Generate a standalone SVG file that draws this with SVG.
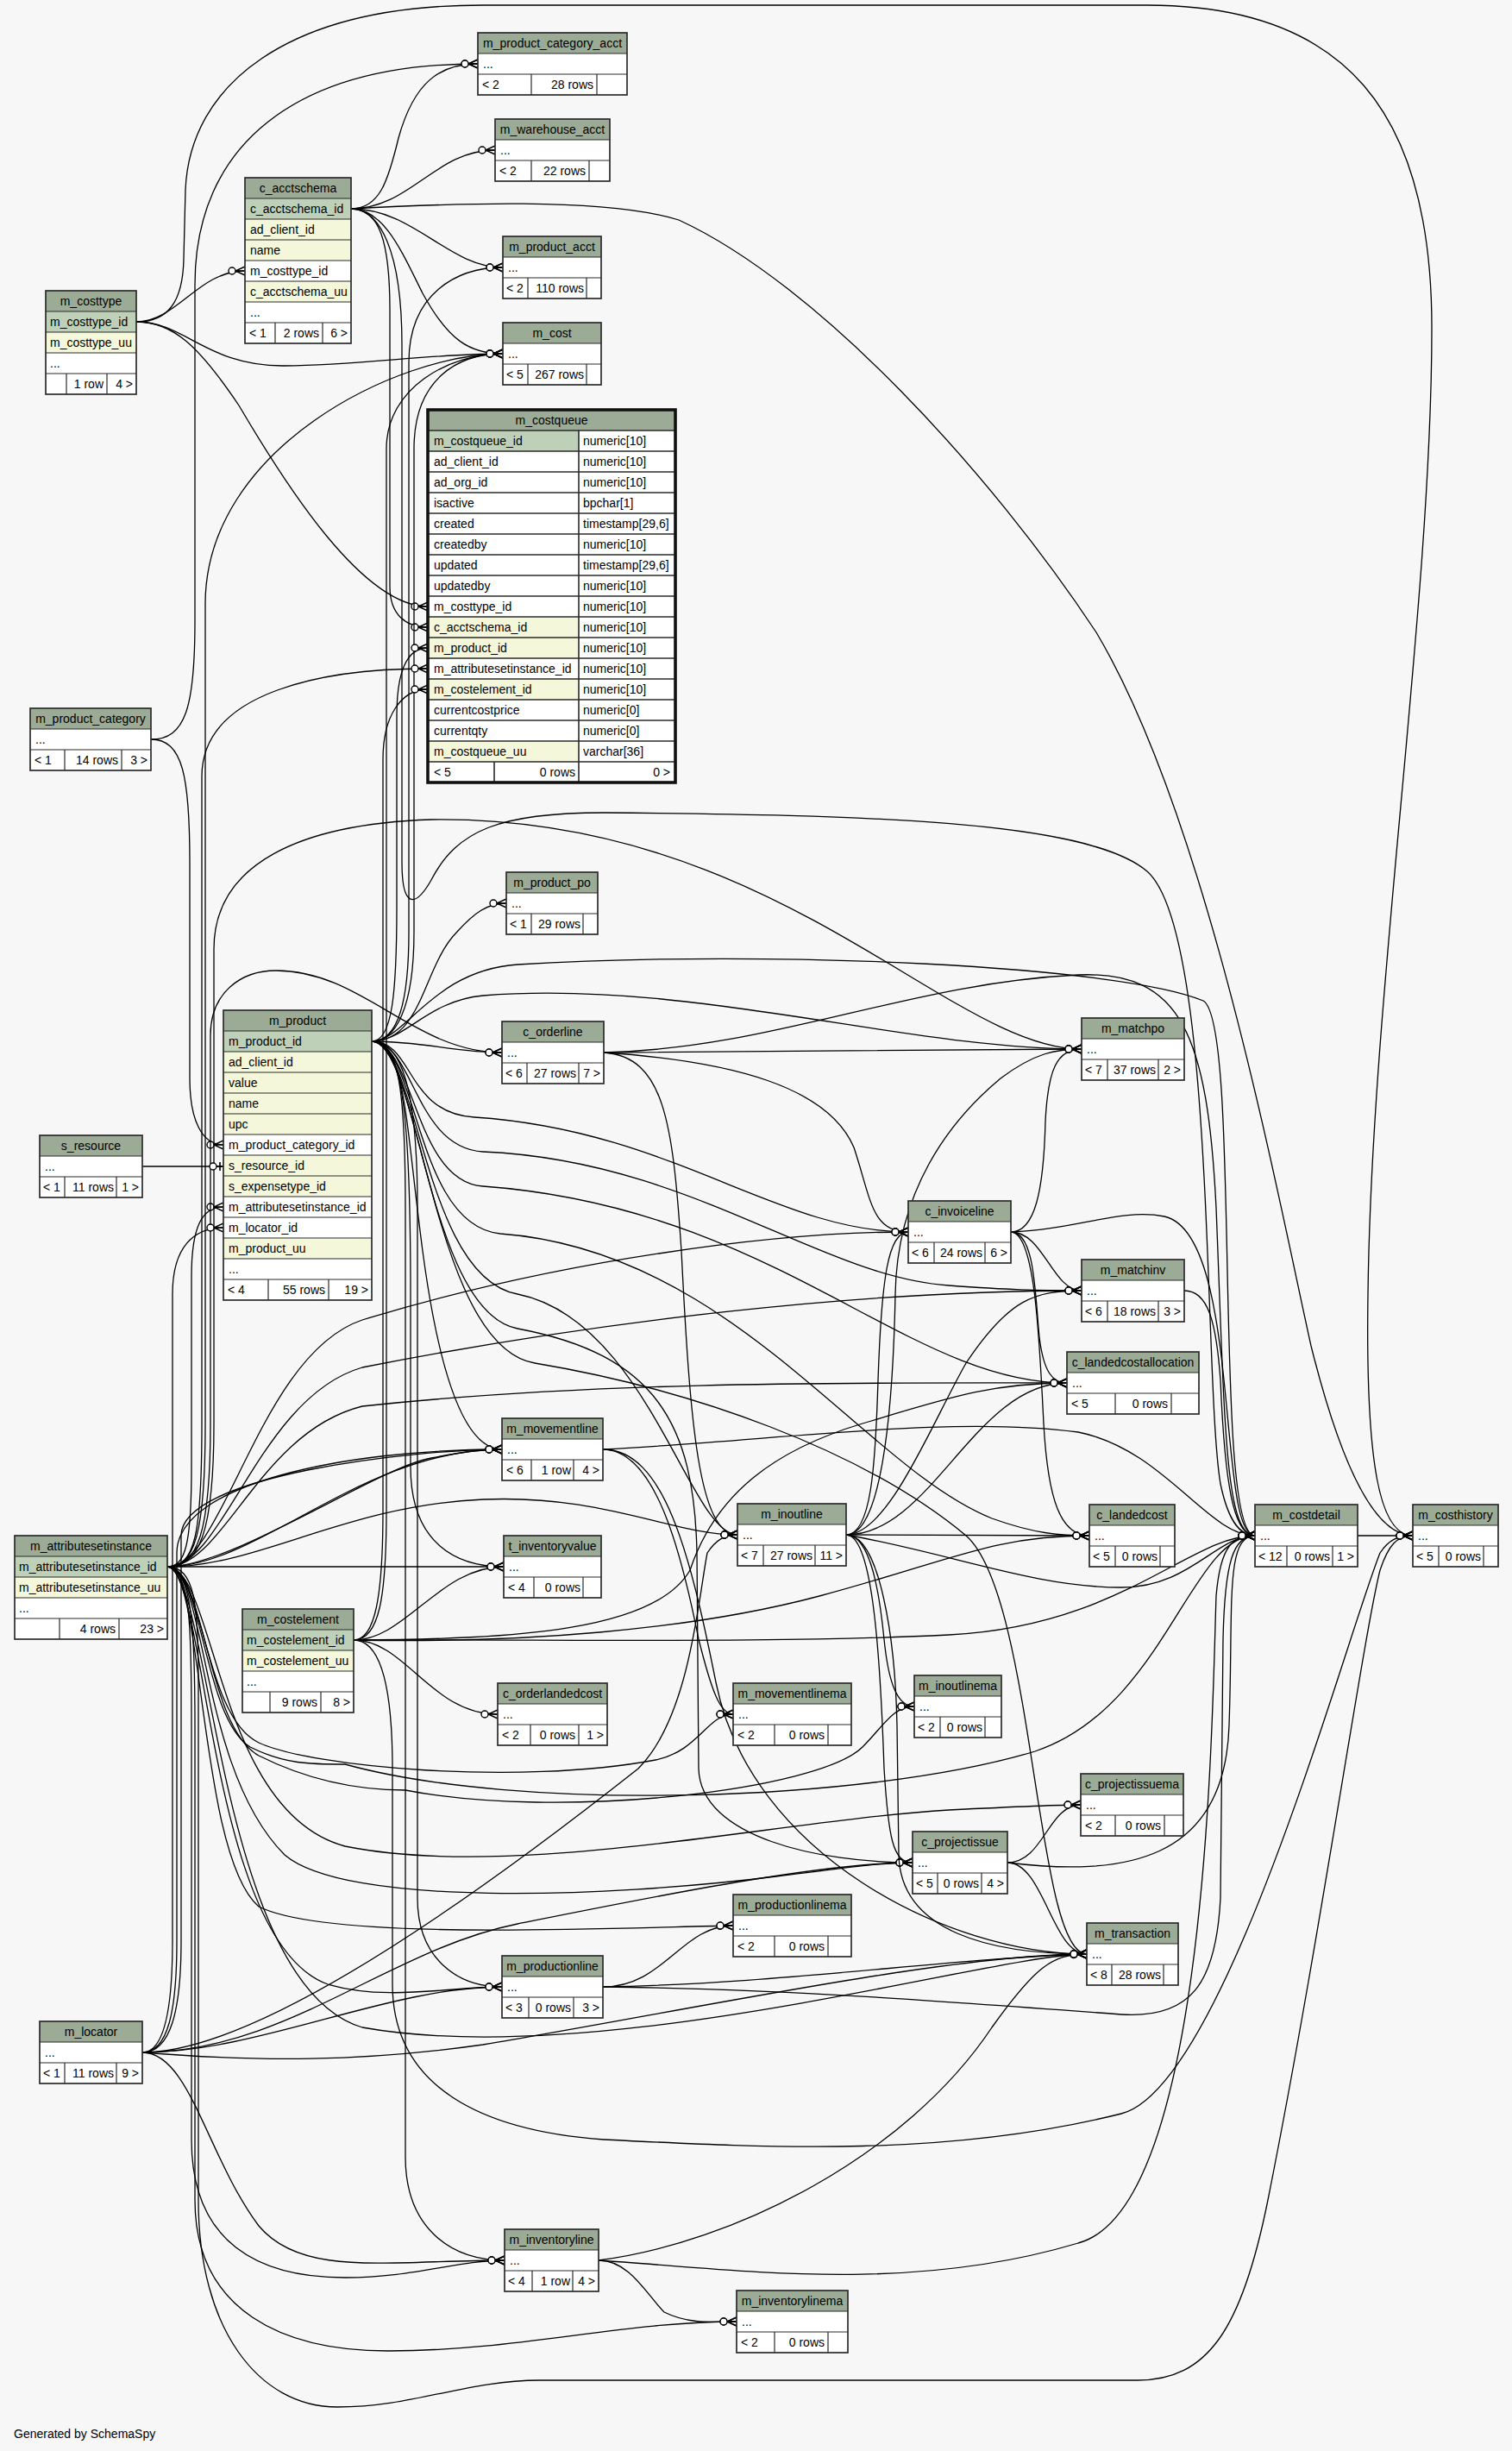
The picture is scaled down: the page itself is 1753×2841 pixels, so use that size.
<svg xmlns="http://www.w3.org/2000/svg" width="1753" height="2841" viewBox="0 0 1753 2841">
<style>
.bg{fill:#f7f7f7}
.hd{fill:#9bab96}
.pk{fill:#bed1b8}
.ix{fill:#f4f7da}
.wt{fill:#ffffff}
.ln{fill:none;stroke:#2b2b2b;stroke-width:1.2}
.bd{fill:none;stroke:#2b2b2b;stroke-width:1.7}
.bd3{fill:none;stroke:#111111;stroke-width:3.6}
text{font-family:"Liberation Sans",Arial,Helvetica,sans-serif;font-size:14px;fill:#000000}
.c{text-anchor:middle}
.r{text-anchor:end}
#edges path{fill:none;stroke:#000000;stroke-width:1.3;marker-end:url(#crow)}
#edges path.one{marker-end:url(#teeodot)}
</style>
<defs>
<marker id="crow" viewBox="0 0 24 14" refX="22" refY="7" markerWidth="24" markerHeight="14" markerUnits="userSpaceOnUse" orient="auto">
<path d="M22,2 L11,7 L22,12 M11,7 H22" fill="none" stroke="#000" stroke-width="1.4"/>
<circle cx="7" cy="7" r="4" fill="#fff" stroke="#000" stroke-width="1.4"/>
</marker>
<marker id="teeodot" viewBox="0 0 24 14" refX="22" refY="7" markerWidth="24" markerHeight="14" markerUnits="userSpaceOnUse" orient="auto">
<path d="M18,2 V12 M14,7 H22" fill="none" stroke="#000" stroke-width="1.6"/>
<circle cx="10" cy="7" r="4" fill="#fff" stroke="#000" stroke-width="1.4"/>
</marker>
</defs>
<rect class="bg" x="0" y="0" width="1753" height="2841"/>

<g id="edges">
<path d="M158,373 C205,373 230,314 284,314"/>
<path d="M158,373 C215,373 240,425 330,424 C420,423 500,410 583,410"/>
<path d="M158,373 C200,373 230,400 277,470 C330,560 420,703 496,703"/>
<path d="M158,373 C195,373 212,350 213,300 L215,220 C220,100 330,6 560,6 L1330,6 C1560,6 1660,130 1660,380 C1660,700 1590,1150 1586,1500 C1583,1700 1600,1780 1638,1780"/>
<path d="M175,857 C215,857 226,820 226,720 L226,330 C226,170 340,74 554,74"/>
<path d="M175,857 C212,857 220,900 220,1000 L220,1250 C220,1300 235,1327 259,1327"/>
<path d="M407,242 C440,242 450,210 462,160 C480,95 510,74 554,74"/>
<path d="M407,242 C475,242 505,174 574,174"/>
<path d="M407,242 C480,242 520,310 583,310"/>
<path d="M407,242 C445,242 465,290 490,340 C520,395 545,410 583,410"/>
<path d="M407,242 C440,242 452,280 452,360 L452,680 C452,712 470,727 496,727"/>
<path d="M407,242 C520,236 700,228 787,255 C950,330 1150,550 1271,733 C1400,950 1480,1380 1520,1560 C1560,1720 1600,1780 1638,1780"/>
<path d="M407,242 C440,242 466,290 466,400 L466,1000 C466,1050 480,1055 500,1020 C530,962 580,942 700,942 C1000,945 1260,950 1330,1010 C1410,1080 1395,1600 1415,1720 C1425,1768 1440,1780 1455,1780"/>
<path d="M431,1207 C462,1207 474,1160 474,1080 L474,420 C474,340 530,310 583,310"/>
<path d="M431,1207 C458,1207 480,1170 480,1080 L480,520 C480,440 530,410 583,410"/>
<path d="M431,1207 C455,1207 460,1150 460,1050 L460,830 C460,770 475,751 496,751"/>
<path d="M431,1207 C490,1207 490,1120 530,1080 C550,1058 565,1047 587,1047"/>
<path d="M431,1207 C490,1207 530,1220 582,1220"/>
<path d="M431,1207 C470,1207 495,1160 560,1154 C800,1135 1050,1216 1254,1216"/>
<path d="M431,1207 C470,1207 500,1125 600,1118 C900,1100 1300,1120 1395,1160 C1440,1185 1405,1780 1455,1780"/>
<path d="M431,1207 C480,1207 470,1290 550,1295 C780,1310 900,1428 1053,1428"/>
<path d="M431,1207 C480,1207 480,1330 560,1335 C800,1345 950,1480 1100,1490 C1170,1495 1200,1496 1254,1496"/>
<path d="M431,1207 C480,1207 480,1370 560,1375 C900,1400 1050,1603 1237,1603"/>
<path d="M431,1207 C485,1207 480,1420 580,1430 C850,1450 1000,1700 1150,1760 C1200,1778 1230,1780 1263,1780"/>
<path d="M431,1207 C470,1207 470,1300 490,1450 C510,1600 540,1680 582,1680"/>
<path d="M431,1207 C468,1207 476,1300 476,1500 L476,1700 C476,1790 530,1816 584,1816"/>
<path d="M431,1207 C485,1207 490,1480 600,1500 C750,1530 800,1779 855,1779"/>
<path d="M431,1207 C485,1207 495,1520 600,1540 C760,1570 805,1650 808,1800 L810,2050 C812,2130 950,2159 1058,2159"/>
<path d="M431,1207 C465,1207 484,1260 484,1400 L484,2200 C484,2270 530,2303 582,2303"/>
<path d="M431,1207 C488,1207 500,1560 620,1580 C800,1610 1000,1680 1120,1780 C1200,1850 1200,2265 1260,2265"/>
<path d="M431,1207 C462,1207 470,1260 470,1400 L470,2500 C470,2580 520,2620 585,2620"/>
<path d="M194,1816 C215,1816 222,1790 222,1700 L222,1480 C222,1420 235,1399 259,1399"/>
<path d="M194,1816 C225,1816 238,1780 238,1650 L238,700 C238,520 460,410 583,410"/>
<path d="M194,1816 C226,1816 234,1780 234,1650 L234,900 C234,800 380,775 496,775"/>
<path d="M194,1816 C228,1816 244,1780 244,1650 L244,1200 C244,1150 280,1125 320,1125 C420,1125 480,1220 582,1220"/>
<path d="M194,1816 C230,1816 248,1780 248,1650 L248,1100 C248,1000 350,955 500,950 C900,945 1100,1216 1254,1216"/>
<path d="M194,1816 C260,1816 300,1570 420,1530 C650,1460 900,1428 1053,1428"/>
<path d="M194,1816 C260,1816 300,1620 420,1585 C700,1530 1000,1496 1254,1496"/>
<path d="M194,1816 C260,1816 300,1660 420,1630 C700,1600 1000,1603 1237,1603"/>
<path d="M194,1816 C300,1816 420,1680 582,1680"/>
<path d="M194,1816 C270,1816 440,1700 500,1690 C530,1684 555,1680 582,1680"/>
<path d="M194,1816 L584,1816"/>
<path d="M194,1816 C300,1816 400,1745 560,1738 C700,1732 780,1779 855,1779"/>
<path d="M194,1816 C240,1816 230,2050 330,2150 C400,2210 700,2200 900,2175 C980,2165 1020,2159 1058,2159"/>
<path d="M194,1816 C235,1816 235,1990 290,2025 C330,2045 360,2045 400,2045 C600,2100 1000,2090 1200,2030 C1350,1980 1380,1780 1455,1780"/>
<path d="M194,1816 C226,1816 230,1860 230,1950 L230,2550 C230,2700 300,2790 391,2790 C480,2790 540,2759 626,2759 L1319,2759 C1400,2759 1440,2700 1470,2550 C1530,2250 1580,1900 1600,1820 C1610,1790 1620,1780 1638,1780"/>
<path d="M194,1816 C236,1816 236,1990 300,2020 C360,2048 600,2070 760,2040 C810,2030 820,1987 850,1987"/>
<path d="M194,1816 C238,1816 238,2000 300,2035 C360,2065 420,2075 470,2075 C650,2110 950,2075 1000,2025 C1025,2000 1035,1978 1060,1978"/>
<path d="M194,1816 C250,1816 250,2100 400,2140 C600,2180 900,2110 1100,2098 C1180,2094 1220,2092 1253,2092"/>
<path d="M194,1816 C236,1816 230,2150 300,2210 C380,2250 700,2235 850,2232"/>
<path d="M194,1816 C240,1816 240,2250 380,2300 C450,2320 520,2303 582,2303"/>
<path d="M194,1816 C245,1816 250,2300 420,2350 C700,2400 1150,2265 1260,2265"/>
<path d="M194,1816 C222,1816 222,1900 222,2000 L222,2480 C222,2600 300,2640 400,2640 C480,2640 530,2620 585,2620"/>
<path d="M194,1816 C224,1816 226,1900 226,2000 L226,2550 C226,2680 330,2725 450,2725 C600,2725 720,2691 854,2691"/>
<path d="M410,1901 C440,1901 448,1850 448,1750 L448,520 C448,450 520,410 583,410"/>
<path d="M410,1901 C435,1901 444,1850 444,1750 L444,880 C444,830 465,799 496,799"/>
<path d="M410,1901 C470,1901 510,1816 584,1816"/>
<path d="M410,1901 C470,1901 500,1987 577,1987"/>
<path d="M410,1901 C600,1905 800,1890 950,1850 C1100,1810 1150,1780 1263,1780"/>
<path d="M410,1901 C600,1900 760,1890 800,1820 C830,1730 900,1680 1000,1650 C1100,1620 1150,1603 1237,1603"/>
<path d="M410,1901 C650,1900 900,1905 1100,1895 C1300,1885 1380,1780 1455,1780"/>
<path d="M410,1901 C440,1901 455,1950 455,2050 L455,2300 C455,2420 560,2470 700,2480 C900,2490 1100,2500 1300,2450 C1420,2420 1560,1900 1600,1800 C1610,1785 1620,1780 1638,1780"/>
<path d="M165,2379 C190,2379 200,2330 200,2250 L200,1500 C200,1445 225,1423 259,1423"/>
<path d="M165,2379 C195,2379 205,2330 205,2250 L205,1800 C205,1720 400,1680 582,1680"/>
<path d="M165,2379 C198,2379 210,2330 210,2250 L210,1780 C210,1710 480,1680 582,1680"/>
<path d="M165,2379 C300,2379 550,2200 740,2050 C800,1990 810,1850 820,1800 C830,1785 840,1779 855,1779"/>
<path d="M165,2379 C330,2379 450,2260 600,2230 C750,2200 950,2159 1058,2159"/>
<path d="M165,2379 C300,2379 450,2303 582,2303"/>
<path d="M165,2379 C300,2390 420,2390 560,2370 C800,2330 1100,2265 1260,2265"/>
<path d="M165,2379 C220,2379 240,2500 300,2580 C350,2640 450,2620 585,2620"/>
<path class="one" d="M165,1352 L259,1352"/>
<path d="M700,1220 C900,1219 1100,1216 1254,1216"/>
<path d="M700,1220 C850,1230 960,1260 990,1330 C1010,1390 1010,1428 1053,1428"/>
<path d="M700,1220 C770,1225 780,1300 790,1450 C800,1650 810,1779 855,1779"/>
<path d="M700,1220 C900,1215 1050,1140 1250,1130 C1370,1125 1400,1200 1410,1400 C1420,1650 1420,1780 1455,1780"/>
<path d="M1172,1428 C1200,1428 1210,1380 1212,1300 C1215,1240 1225,1216 1254,1216"/>
<path d="M1172,1428 C1210,1428 1220,1496 1254,1496"/>
<path d="M1172,1428 C1200,1428 1200,1500 1205,1550 C1210,1590 1220,1603 1237,1603"/>
<path d="M1172,1428 C1200,1428 1205,1550 1210,1650 C1215,1740 1230,1780 1263,1780"/>
<path d="M1172,1428 C1250,1425 1300,1400 1350,1410 C1440,1430 1410,1780 1455,1780"/>
<path d="M981,1779 C1020,1779 1035,1650 1038,1500 C1040,1380 1100,1300 1160,1250 C1200,1220 1225,1216 1254,1216"/>
<path d="M981,1779 C1010,1779 1015,1700 1018,1600 C1022,1480 1030,1428 1053,1428"/>
<path d="M981,1779 C1030,1779 1080,1650 1120,1580 C1170,1505 1200,1496 1254,1496"/>
<path d="M981,1779 C1080,1779 1130,1603 1237,1603"/>
<path d="M981,1779 L1263,1780"/>
<path d="M981,1779 C1100,1800 1200,1840 1300,1840 C1380,1840 1410,1780 1455,1780"/>
<path d="M981,1779 C1010,1779 1020,1850 1025,1900 C1030,1950 1040,1978 1060,1978"/>
<path d="M981,1779 C1010,1779 1020,1900 1025,2050 C1030,2130 1035,2159 1058,2159"/>
<path d="M981,1779 C1020,1779 1038,1900 1040,2000 L1042,2150 C1044,2240 1150,2265 1260,2265"/>
<path d="M699,1680 C760,1680 790,1800 810,1900 C825,1960 835,1987 850,1987"/>
<path d="M699,1680 C900,1670 1100,1640 1250,1660 C1350,1680 1400,1780 1455,1780"/>
<path d="M699,1680 C770,1680 800,1800 830,1950 C870,2150 1100,2265 1260,2265"/>
<path d="M699,2303 C770,2303 790,2232 850,2232"/>
<path d="M699,2303 C900,2300 1100,2270 1260,2265"/>
<path d="M699,2303 C900,2305 1100,2320 1300,2335 C1380,2340 1410,2300 1415,2200 L1418,1900 C1420,1810 1430,1780 1455,1780"/>
<path d="M694,2620 C730,2620 750,2660 770,2680 C800,2695 830,2691 854,2691"/>
<path d="M694,2620 C850,2600 1050,2500 1150,2350 C1200,2280 1220,2265 1260,2265"/>
<path d="M694,2620 C850,2630 1050,2660 1250,2600 C1400,2560 1405,2000 1410,1850 C1415,1790 1430,1780 1455,1780"/>
<path d="M1168,2159 C1210,2159 1215,2092 1253,2092"/>
<path d="M1168,2159 C1300,2175 1420,2160 1425,2000 C1430,1860 1420,1780 1455,1780"/>
<path d="M1168,2159 C1210,2159 1220,2265 1260,2265"/>
<path d="M1574,1780 L1638,1780"/>
<path d="M1373,1496 C1400,1496 1410,1530 1415,1600 C1420,1720 1430,1780 1455,1780"/>
</g>

<g id="m_product_category_acct" transform="translate(554,38)"><rect class="hd" width="173" height="24"/><rect class="wt" y="24" width="173" height="48"/><path class="ln" d="M0,24H173M0,48H173M62,48V72M138,48V72"/><rect class="bd" width="173" height="72"/><text class="c" x="86.5" y="17">m_product_category_acct</text><text x="6" y="41">...</text><text x="5" y="65">&lt; 2</text><text class="r" x="134" y="65">28 rows</text></g>

<g id="m_warehouse_acct" transform="translate(574,138)"><rect class="hd" width="133" height="24"/><rect class="wt" y="24" width="133" height="48"/><path class="ln" d="M0,24H133M0,48H133M42,48V72M109,48V72"/><rect class="bd" width="133" height="72"/><text class="c" x="66.5" y="17">m_warehouse_acct</text><text x="6" y="41">...</text><text x="5" y="65">&lt; 2</text><text class="r" x="105" y="65">22 rows</text></g>

<g id="c_acctschema" transform="translate(284,206)"><rect class="hd" width="123" height="24"/><rect class="pk" y="24" width="123" height="24"/><rect class="ix" y="48" width="123" height="48"/><rect class="wt" y="96" width="123" height="24"/><rect class="ix" y="120" width="123" height="24"/><rect class="wt" y="144" width="123" height="48"/><path class="ln" d="M0,24H123M0,48H123M0,72H123M0,96H123M0,120H123M0,144H123M0,168H123M35,168V192M90,168V192"/><rect class="bd" width="123" height="192"/><text class="c" x="61.5" y="17">c_acctschema</text><text x="6" y="41">c_acctschema_id</text><text x="6" y="65">ad_client_id</text><text x="6" y="89">name</text><text x="6" y="113">m_costtype_id</text><text x="6" y="137">c_acctschema_uu</text><text x="6" y="161">...</text><text x="5" y="185">&lt; 1</text><text class="r" x="86" y="185">2 rows</text><text class="r" x="119" y="185">6 &gt;</text></g>

<g id="m_product_acct" transform="translate(583,274)"><rect class="hd" width="114" height="24"/><rect class="wt" y="24" width="114" height="48"/><path class="ln" d="M0,24H114M0,48H114M29,48V72M97,48V72"/><rect class="bd" width="114" height="72"/><text class="c" x="57" y="17">m_product_acct</text><text x="6" y="41">...</text><text x="4" y="65">&lt; 2</text><text class="r" x="94" y="65">110 rows</text></g>

<g id="m_cost" transform="translate(583,374)"><rect class="hd" width="114" height="24"/><rect class="wt" y="24" width="114" height="48"/><path class="ln" d="M0,24H114M0,48H114M29,48V72M97,48V72"/><rect class="bd" width="114" height="72"/><text class="c" x="57" y="17">m_cost</text><text x="6" y="41">...</text><text x="4" y="65">&lt; 5</text><text class="r" x="94" y="65">267 rows</text></g>

<g id="m_costtype" transform="translate(53,337)"><rect class="hd" width="105" height="24"/><rect class="pk" y="24" width="105" height="24"/><rect class="ix" y="48" width="105" height="24"/><rect class="wt" y="72" width="105" height="48"/><path class="ln" d="M0,24H105M0,48H105M0,72H105M0,96H105M24,96V120M71,96V120"/><rect class="bd" width="105" height="120"/><text class="c" x="52.5" y="17">m_costtype</text><text x="5" y="41">m_costtype_id</text><text x="5" y="65">m_costtype_uu</text><text x="5" y="89">...</text><text class="r" x="67" y="113">1 row</text><text class="r" x="101" y="113">4 &gt;</text></g>

<g id="m_costqueue" transform="translate(496,475)">
<rect class="hd" width="287" height="24"/>
<rect class="wt" y="24" width="287" height="408"/>
<rect class="pk" y="24" width="175" height="24"/>
<rect class="ix" y="240" width="175" height="48"/>
<rect class="ix" y="312" width="175" height="24"/>
<rect class="ix" y="384" width="175" height="24"/>
<path class="ln" d="M0,24H287M0,48H287M0,72H287M0,96H287M0,120H287M0,144H287M0,168H287M0,192H287M0,216H287M0,240H287M0,264H287M0,288H287M0,312H287M0,336H287M0,360H287M0,384H287M0,408H287M175,24V432M77,408V432" style="stroke-width:1.6"/>
<rect class="bd3" width="287" height="432"/>
<text class="c" x="143.5" y="17">m_costqueue</text>
<text x="7" y="41">m_costqueue_id</text><text x="180" y="41">numeric[10]</text>
<text x="7" y="65">ad_client_id</text><text x="180" y="65">numeric[10]</text>
<text x="7" y="89">ad_org_id</text><text x="180" y="89">numeric[10]</text>
<text x="7" y="113">isactive</text><text x="180" y="113">bpchar[1]</text>
<text x="7" y="137">created</text><text x="180" y="137">timestamp[29,6]</text>
<text x="7" y="161">createdby</text><text x="180" y="161">numeric[10]</text>
<text x="7" y="185">updated</text><text x="180" y="185">timestamp[29,6]</text>
<text x="7" y="209">updatedby</text><text x="180" y="209">numeric[10]</text>
<text x="7" y="233">m_costtype_id</text><text x="180" y="233">numeric[10]</text>
<text x="7" y="257">c_acctschema_id</text><text x="180" y="257">numeric[10]</text>
<text x="7" y="281">m_product_id</text><text x="180" y="281">numeric[10]</text>
<text x="7" y="305">m_attributesetinstance_id</text><text x="180" y="305">numeric[10]</text>
<text x="7" y="329">m_costelement_id</text><text x="180" y="329">numeric[10]</text>
<text x="7" y="353">currentcostprice</text><text x="180" y="353">numeric[0]</text>
<text x="7" y="377">currentqty</text><text x="180" y="377">numeric[0]</text>
<text x="7" y="401">m_costqueue_uu</text><text x="180" y="401">varchar[36]</text>
<text x="7" y="425">&lt; 5</text><text class="r" x="171" y="425">0 rows</text><text class="r" x="281" y="425">0 &gt;</text>
</g>

<g id="m_product_category" transform="translate(35,821)"><rect class="hd" width="140" height="24"/><rect class="wt" y="24" width="140" height="48"/><path class="ln" d="M0,24H140M0,48H140M40,48V72M106,48V72"/><rect class="bd" width="140" height="72"/><text class="c" x="70" y="17">m_product_category</text><text x="6" y="41">...</text><text x="5" y="65">&lt; 1</text><text class="r" x="102" y="65">14 rows</text><text class="r" x="136" y="65">3 &gt;</text></g>

<g id="m_product_po" transform="translate(587,1011)"><rect class="hd" width="106" height="24"/><rect class="wt" y="24" width="106" height="48"/><path class="ln" d="M0,24H106M0,48H106M29,48V72M89,48V72"/><rect class="bd" width="106" height="72"/><text class="c" x="53" y="17">m_product_po</text><text x="6" y="41">...</text><text x="4" y="65">&lt; 1</text><text class="r" x="86" y="65">29 rows</text></g>

<g id="m_product" transform="translate(259,1171)">
<rect class="hd" width="172" height="24"/>
<rect class="wt" y="24" width="172" height="312"/>
<rect class="pk" y="24" width="172" height="24"/>
<rect class="ix" y="48" width="172" height="96"/>
<rect class="ix" y="168" width="172" height="48"/>
<rect class="ix" y="264" width="172" height="24"/>
<path class="ln" d="M0,24H172M0,48H172M0,72H172M0,96H172M0,120H172M0,144H172M0,168H172M0,192H172M0,216H172M0,240H172M0,264H172M0,288H172M0,312H172M52,312V336M122,312V336"/>
<rect class="bd" width="172" height="336"/>
<text class="c" x="86" y="17">m_product</text>
<text x="6" y="41">m_product_id</text>
<text x="6" y="65">ad_client_id</text>
<text x="6" y="89">value</text>
<text x="6" y="113">name</text>
<text x="6" y="137">upc</text>
<text x="6" y="161">m_product_category_id</text>
<text x="6" y="185">s_resource_id</text>
<text x="6" y="209">s_expensetype_id</text>
<text x="6" y="233">m_attributesetinstance_id</text>
<text x="6" y="257">m_locator_id</text>
<text x="6" y="281">m_product_uu</text>
<text x="6" y="305">...</text>
<text x="5" y="329">&lt; 4</text><text class="r" x="118" y="329">55 rows</text><text class="r" x="168" y="329">19 &gt;</text>
</g>

<g id="c_orderline" transform="translate(582,1184)"><rect class="hd" width="118" height="24"/><rect class="wt" y="24" width="118" height="48"/><path class="ln" d="M0,24H118M0,48H118M29,48V72M89,48V72"/><rect class="bd" width="118" height="72"/><text class="c" x="59" y="17">c_orderline</text><text x="6" y="41">...</text><text x="4" y="65">&lt; 6</text><text class="r" x="86" y="65">27 rows</text><text class="r" x="114" y="65">7 &gt;</text></g>

<g id="m_matchpo" transform="translate(1254,1180)"><rect class="hd" width="119" height="24"/><rect class="wt" y="24" width="119" height="48"/><path class="ln" d="M0,24H119M0,48H119M30,48V72M89,48V72"/><rect class="bd" width="119" height="72"/><text class="c" x="59.5" y="17">m_matchpo</text><text x="6" y="41">...</text><text x="4" y="65">&lt; 7</text><text class="r" x="86" y="65">37 rows</text><text class="r" x="115" y="65">2 &gt;</text></g>

<g id="s_resource" transform="translate(46,1316)"><rect class="hd" width="119" height="24"/><rect class="wt" y="24" width="119" height="48"/><path class="ln" d="M0,24H119M0,48H119M29,48V72M89,48V72"/><rect class="bd" width="119" height="72"/><text class="c" x="59.5" y="17">s_resource</text><text x="6" y="41">...</text><text x="4" y="65">&lt; 1</text><text class="r" x="86" y="65">11 rows</text><text class="r" x="115" y="65">1 &gt;</text></g>

<g id="c_invoiceline" transform="translate(1053,1392)"><rect class="hd" width="119" height="24"/><rect class="wt" y="24" width="119" height="48"/><path class="ln" d="M0,24H119M0,48H119M30,48V72M89,48V72"/><rect class="bd" width="119" height="72"/><text class="c" x="59.5" y="17">c_invoiceline</text><text x="6" y="41">...</text><text x="4" y="65">&lt; 6</text><text class="r" x="86" y="65">24 rows</text><text class="r" x="115" y="65">6 &gt;</text></g>

<g id="m_matchinv" transform="translate(1254,1460)"><rect class="hd" width="119" height="24"/><rect class="wt" y="24" width="119" height="48"/><path class="ln" d="M0,24H119M0,48H119M30,48V72M89,48V72"/><rect class="bd" width="119" height="72"/><text class="c" x="59.5" y="17">m_matchinv</text><text x="6" y="41">...</text><text x="4" y="65">&lt; 6</text><text class="r" x="86" y="65">18 rows</text><text class="r" x="115" y="65">3 &gt;</text></g>

<g id="c_landedcostallocation" transform="translate(1237,1567)"><rect class="hd" width="153" height="24"/><rect class="wt" y="24" width="153" height="48"/><path class="ln" d="M0,24H153M0,48H153M56,48V72M121,48V72"/><rect class="bd" width="153" height="72"/><text class="c" x="76.5" y="17">c_landedcostallocation</text><text x="6" y="41">...</text><text x="5" y="65">&lt; 5</text><text class="r" x="117" y="65">0 rows</text></g>

<g id="c_landedcost" transform="translate(1263,1744)"><rect class="hd" width="99" height="24"/><rect class="wt" y="24" width="99" height="48"/><path class="ln" d="M0,24H99M0,48H99M30,48V72M82,48V72"/><rect class="bd" width="99" height="72"/><text class="c" x="49.5" y="17">c_landedcost</text><text x="6" y="41">...</text><text x="4" y="65">&lt; 5</text><text class="r" x="79" y="65">0 rows</text></g>

<g id="m_costdetail" transform="translate(1455,1744)"><rect class="hd" width="119" height="24"/><rect class="wt" y="24" width="119" height="48"/><path class="ln" d="M0,24H119M0,48H119M37,48V72M90,48V72"/><rect class="bd" width="119" height="72"/><text class="c" x="59.5" y="17">m_costdetail</text><text x="6" y="41">...</text><text x="4" y="65">&lt; 12</text><text class="r" x="87" y="65">0 rows</text><text class="r" x="115" y="65">1 &gt;</text></g>

<g id="m_costhistory" transform="translate(1638,1744)"><rect class="hd" width="99" height="24"/><rect class="wt" y="24" width="99" height="48"/><path class="ln" d="M0,24H99M0,48H99M30,48V72M82,48V72"/><rect class="bd" width="99" height="72"/><text class="c" x="49.5" y="17">m_costhistory</text><text x="6" y="41">...</text><text x="4" y="65">&lt; 5</text><text class="r" x="79" y="65">0 rows</text></g>

<g id="m_attributesetinstance" transform="translate(17,1780)"><rect class="hd" width="177" height="24"/><rect class="pk" y="24" width="177" height="24"/><rect class="ix" y="48" width="177" height="24"/><rect class="wt" y="72" width="177" height="48"/><path class="ln" d="M0,24H177M0,48H177M0,72H177M0,96H177M52,96V120M121,96V120"/><rect class="bd" width="177" height="120"/><text class="c" x="88.5" y="17">m_attributesetinstance</text><text x="5" y="41">m_attributesetinstance_id</text><text x="5" y="65">m_attributesetinstance_uu</text><text x="5" y="89">...</text><text class="r" x="117" y="113">4 rows</text><text class="r" x="173" y="113">23 &gt;</text></g>

<g id="m_movementline" transform="translate(582,1644)"><rect class="hd" width="117" height="24"/><rect class="wt" y="24" width="117" height="48"/><path class="ln" d="M0,24H117M0,48H117M34,48V72M83,48V72"/><rect class="bd" width="117" height="72"/><text class="c" x="58.5" y="17">m_movementline</text><text x="6" y="41">...</text><text x="5" y="65">&lt; 6</text><text class="r" x="80" y="65">1 row</text><text class="r" x="113" y="65">4 &gt;</text></g>

<g id="t_inventoryvalue" transform="translate(584,1780)"><rect class="hd" width="113" height="24"/><rect class="wt" y="24" width="113" height="48"/><path class="ln" d="M0,24H113M0,48H113M35,48V72M92,48V72"/><rect class="bd" width="113" height="72"/><text class="c" x="56.5" y="17">t_inventoryvalue</text><text x="6" y="41">...</text><text x="5" y="65">&lt; 4</text><text class="r" x="89" y="65">0 rows</text></g>

<g id="m_inoutline" transform="translate(855,1743)"><rect class="hd" width="126" height="24"/><rect class="wt" y="24" width="126" height="48"/><path class="ln" d="M0,24H126M0,48H126M30,48V72M90,48V72"/><rect class="bd" width="126" height="72"/><text class="c" x="63" y="17">m_inoutline</text><text x="6" y="41">...</text><text x="4" y="65">&lt; 7</text><text class="r" x="87" y="65">27 rows</text><text class="r" x="122" y="65">11 &gt;</text></g>

<g id="m_costelement" transform="translate(281,1865)"><rect class="hd" width="129" height="24"/><rect class="pk" y="24" width="129" height="24"/><rect class="ix" y="48" width="129" height="24"/><rect class="wt" y="72" width="129" height="48"/><path class="ln" d="M0,24H129M0,48H129M0,72H129M0,96H129M32,96V120M91,96V120"/><rect class="bd" width="129" height="120"/><text class="c" x="64.5" y="17">m_costelement</text><text x="5" y="41">m_costelement_id</text><text x="5" y="65">m_costelement_uu</text><text x="5" y="89">...</text><text class="r" x="87" y="113">9 rows</text><text class="r" x="125" y="113">8 &gt;</text></g>

<g id="c_orderlandedcost" transform="translate(577,1951)"><rect class="hd" width="127" height="24"/><rect class="wt" y="24" width="127" height="48"/><path class="ln" d="M0,24H127M0,48H127M38,48V72M94,48V72"/><rect class="bd" width="127" height="72"/><text class="c" x="63.5" y="17">c_orderlandedcost</text><text x="6" y="41">...</text><text x="5" y="65">&lt; 2</text><text class="r" x="90" y="65">0 rows</text><text class="r" x="123" y="65">1 &gt;</text></g>

<g id="m_movementlinema" transform="translate(850,1951)"><rect class="hd" width="137" height="24"/><rect class="wt" y="24" width="137" height="48"/><path class="ln" d="M0,24H137M0,48H137M48,48V72M110,48V72"/><rect class="bd" width="137" height="72"/><text class="c" x="68.5" y="17">m_movementlinema</text><text x="6" y="41">...</text><text x="5" y="65">&lt; 2</text><text class="r" x="106" y="65">0 rows</text></g>

<g id="m_inoutlinema" transform="translate(1060,1942)"><rect class="hd" width="101" height="24"/><rect class="wt" y="24" width="101" height="48"/><path class="ln" d="M0,24H101M0,48H101M30,48V72M82,48V72"/><rect class="bd" width="101" height="72"/><text class="c" x="50.5" y="17">m_inoutlinema</text><text x="6" y="41">...</text><text x="4" y="65">&lt; 2</text><text class="r" x="79" y="65">0 rows</text></g>

<g id="c_projectissuema" transform="translate(1253,2056)"><rect class="hd" width="119" height="24"/><rect class="wt" y="24" width="119" height="48"/><path class="ln" d="M0,24H119M0,48H119M40,48V72M97,48V72"/><rect class="bd" width="119" height="72"/><text class="c" x="59.5" y="17">c_projectissuema</text><text x="6" y="41">...</text><text x="5" y="65">&lt; 2</text><text class="r" x="93" y="65">0 rows</text></g>

<g id="c_projectissue" transform="translate(1058,2123)"><rect class="hd" width="110" height="24"/><rect class="wt" y="24" width="110" height="48"/><path class="ln" d="M0,24H110M0,48H110M29,48V72M80,48V72"/><rect class="bd" width="110" height="72"/><text class="c" x="55" y="17">c_projectissue</text><text x="6" y="41">...</text><text x="4" y="65">&lt; 5</text><text class="r" x="77" y="65">0 rows</text><text class="r" x="106" y="65">4 &gt;</text></g>

<g id="m_productionlinema" transform="translate(850,2196)"><rect class="hd" width="137" height="24"/><rect class="wt" y="24" width="137" height="48"/><path class="ln" d="M0,24H137M0,48H137M48,48V72M110,48V72"/><rect class="bd" width="137" height="72"/><text class="c" x="68.5" y="17">m_productionlinema</text><text x="6" y="41">...</text><text x="5" y="65">&lt; 2</text><text class="r" x="106" y="65">0 rows</text></g>

<g id="m_transaction" transform="translate(1260,2229)"><rect class="hd" width="106" height="24"/><rect class="wt" y="24" width="106" height="48"/><path class="ln" d="M0,24H106M0,48H106M29,48V72M89,48V72"/><rect class="bd" width="106" height="72"/><text class="c" x="53" y="17">m_transaction</text><text x="6" y="41">...</text><text x="4" y="65">&lt; 8</text><text class="r" x="86" y="65">28 rows</text></g>

<g id="m_productionline" transform="translate(582,2267)"><rect class="hd" width="117" height="24"/><rect class="wt" y="24" width="117" height="48"/><path class="ln" d="M0,24H117M0,48H117M31,48V72M83,48V72"/><rect class="bd" width="117" height="72"/><text class="c" x="58.5" y="17">m_productionline</text><text x="6" y="41">...</text><text x="4" y="65">&lt; 3</text><text class="r" x="80" y="65">0 rows</text><text class="r" x="113" y="65">3 &gt;</text></g>

<g id="m_locator" transform="translate(46,2343)"><rect class="hd" width="119" height="24"/><rect class="wt" y="24" width="119" height="48"/><path class="ln" d="M0,24H119M0,48H119M29,48V72M89,48V72"/><rect class="bd" width="119" height="72"/><text class="c" x="59.5" y="17">m_locator</text><text x="6" y="41">...</text><text x="4" y="65">&lt; 1</text><text class="r" x="86" y="65">11 rows</text><text class="r" x="115" y="65">9 &gt;</text></g>

<g id="m_inventoryline" transform="translate(585,2584)"><rect class="hd" width="109" height="24"/><rect class="wt" y="24" width="109" height="48"/><path class="ln" d="M0,24H109M0,48H109M32,48V72M79,48V72"/><rect class="bd" width="109" height="72"/><text class="c" x="54.5" y="17">m_inventoryline</text><text x="6" y="41">...</text><text x="4" y="65">&lt; 4</text><text class="r" x="76" y="65">1 row</text><text class="r" x="105" y="65">4 &gt;</text></g>

<g id="m_inventorylinema" transform="translate(854,2655)"><rect class="hd" width="129" height="24"/><rect class="wt" y="24" width="129" height="48"/><path class="ln" d="M0,24H129M0,48H129M44,48V72M106,48V72"/><rect class="bd" width="129" height="72"/><text class="c" x="64.5" y="17">m_inventorylinema</text><text x="6" y="41">...</text><text x="5" y="65">&lt; 2</text><text class="r" x="102" y="65">0 rows</text></g>

<text x="16" y="2826">Generated by SchemaSpy</text>
</svg>
